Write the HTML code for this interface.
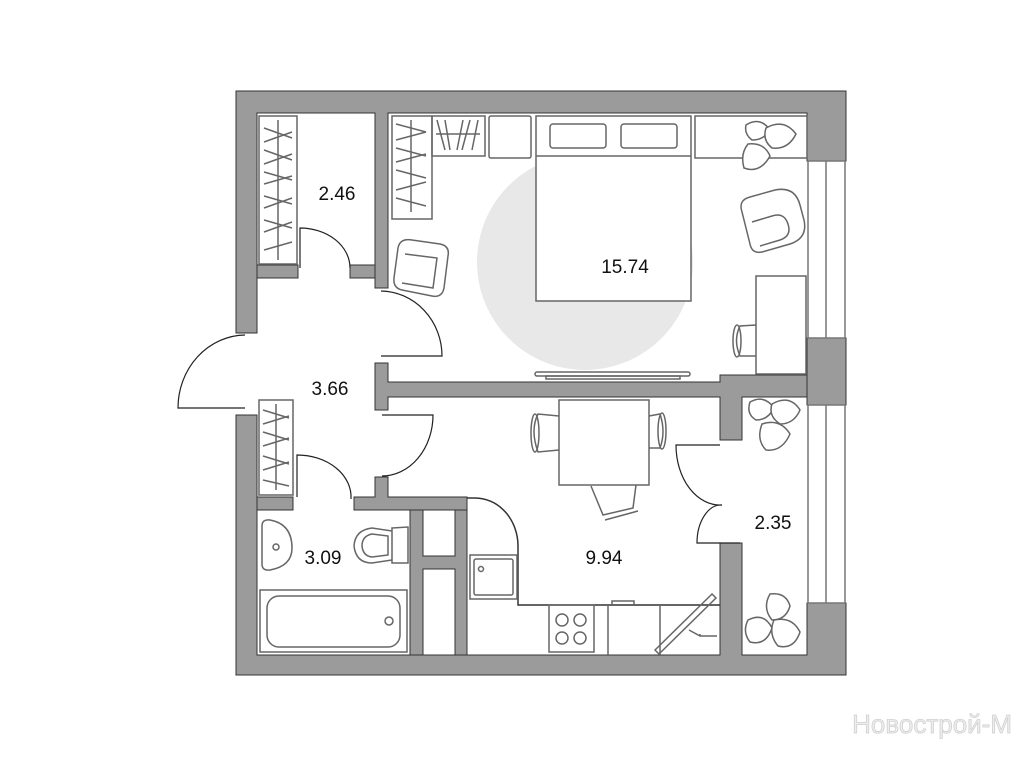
<!DOCTYPE html>
<html><head><meta charset="utf-8"><style>
html,body{margin:0;padding:0;background:#fff;}
svg{display:block;}
text{font-family:"Liberation Sans",sans-serif;}
</style></head><body>
<svg width="1024" height="768" viewBox="0 0 1024 768" xmlns="http://www.w3.org/2000/svg">
<rect width="1024" height="768" fill="#fff"/>
<circle cx="585" cy="262" r="108" fill="#e8e8e8"/>
<g fill="#9b9b9b" stroke="#333" stroke-width="1">
<path d="M236,91 H846 V161 H807 V113 H388 V288 H375 V113 H257 V333 H236 Z"/>
<rect x="257" y="265" width="41" height="13"/>
<rect x="350" y="265" width="25" height="13"/>
<rect x="807" y="338" width="39" height="67"/>
<path d="M375,363 H388 V382 H720 V375 H807 V397 H742 V440 H720 V397 H388 V410 H375 Z"/>
<path d="M236,415 H257 V655 H410 V510 H423 V655 H455 V510 H467 V655 H720 V543 H742 V655 H807 V603 H846 V675 H236 Z"/>
<rect x="257" y="497" width="36" height="13"/>
<path d="M354,497 H375 V477 H388 V497 H467 V510 H354 Z"/>
<rect x="410" y="510" width="57" height="145"/>
</g>
<g fill="#fff" stroke="#333" stroke-width="1">
<rect x="423" y="510" width="32" height="46"/>
<rect x="423" y="569" width="32" height="86"/>
</g>
<g fill="#fff" stroke="#777" stroke-width="1.5">
<rect x="808" y="161" width="37" height="177"/>
<line x1="826" y1="161" x2="826" y2="338"/>
<rect x="808" y="405" width="37" height="198"/>
<line x1="826" y1="405" x2="826" y2="603"/>
</g>
<g fill="none" stroke="#222" stroke-width="1.2">
<path d="M300,268 V228 A50,40 0 0 1 350,268"/>
<path d="M381,291 A62,65 0 0 1 442,356 H381"/>
<path d="M245,335 A68,73 0 0 0 178,408 H245"/>
<path d="M297,497 V455 A54,42 0 0 1 351,499"/>
<path d="M382,415 H433 A51,61 0 0 1 382,476"/>
<path d="M720,445 H676 A44,60 0 0 0 722,505"/>
<path d="M740,543 H697 A24,38 0 0 1 722,505"/>
</g>
<g fill="none" stroke="#666" stroke-width="1.5">
<rect x="259" y="116" width="38" height="148"/>
<line x1="278" y1="120" x2="278" y2="260"/>
<path d="M264,128 L292,138 M264,142 L292,132 M264,150 L292,160 M264,164 L292,154 M264,172 L292,180 M264,184 L292,176 M264,196 L292,204 M264,208 L292,198 M264,220 L292,228 M264,232 L292,222 M264,250 L292,242"/>
<rect x="259" y="400" width="34" height="95"/>
<line x1="276" y1="404" x2="276" y2="490"/>
<path d="M263,410 L289,418 M263,424 L289,416 M263,432 L289,440 M263,446 L289,438 M263,456 L289,464 M263,470 L289,462 M263,480 L289,486"/>
<rect x="392" y="116" width="40" height="103"/>
<rect x="432" y="116" width="53" height="40"/>
<line x1="411" y1="120" x2="411" y2="212"/>
<path d="M396,124 L426,132 M396,140 L426,132 M396,148 L426,156 M396,162 L426,154 M396,170 L426,178 M396,190 L426,182 M396,198 L426,206"/>
<path d="M437,120 L445,150 M445,120 L450,150 M457,150 L463,120 M462,150 L470,120 M472,150 L478,120 M436,134 L480,134"/>
<rect x="489" y="116" width="42" height="42" rx="2"/>
<rect x="536" y="116" width="155" height="185" fill="#fff"/>
<line x1="536" y1="156" x2="691" y2="156"/>
<rect x="550" y="124" width="56" height="24" rx="3"/>
<rect x="621" y="124" width="56" height="24" rx="3"/>
<rect x="695" y="116" width="112" height="42"/>
<rect x="535" y="372" width="155" height="4" rx="2"/>
<rect x="546" y="376" width="134" height="3"/>
<path d="M398,248 Q400,238 412,240 L440,244 Q450,246 448,256 L444,288 Q442,298 432,296 L402,290 Q393,288 394,278 Z"/>
<path d="M405,254 L437,258 L433,288 L402,283"/>
<path d="M742,212 Q738,200 750,197 L775,190 Q795,186 800,205 L804,220 Q808,238 790,244 L762,252 Q752,254 750,244 Z"/>
<path d="M752,222 L772,216 Q784,212 788,224 Q792,236 780,240 L760,246"/>
<rect x="756" y="276" width="50" height="98"/>
<path d="M756,325 L740,326 Q733,340 740,356 L756,356"/>
<ellipse cx="737" cy="341" rx="4" ry="16"/>
<rect x="559" y="400" width="90" height="85"/>
<path d="M559,416 L538,414 Q530,430 538,452 L559,450"/>
<ellipse cx="535" cy="433" rx="4" ry="19"/>
<path d="M649,416 L660,414 Q666,432 660,448 L649,448"/>
<ellipse cx="662" cy="431" rx="4" ry="18"/>
<path d="M591,486 L603,515 L633,508 L636,485"/>
<path d="M605,520 L638,511"/>
<path d="M262,526 Q262,519 270,520 Q292,524 292,548 Q292,566 270,570 Q262,571 262,564 Z"/>
<circle cx="276" cy="547" r="3"/>
<path d="M392,528 L408,527 L408,563 L392,563 Z"/>
<path d="M392,531 L372,528 Q355,530 354,546 Q356,563 372,563 L392,560"/>
<path d="M388,536 L372,534 Q362,536 362,546 Q363,556 372,557 L388,555 Z"/>
<rect x="260" y="590" width="147" height="62"/>
<rect x="267" y="596" width="133" height="51" rx="12"/>
<circle cx="389" cy="621" r="4"/>
<path d="M467,498 H475 A43,48 0 0 1 518,546 V605 H720" stroke="#333"/>
<rect x="470" y="555" width="47" height="44"/>
<rect x="474" y="559" width="39" height="36" rx="2"/>
<circle cx="481" cy="569" r="2.5"/>
<rect x="549" y="605" width="45" height="47"/>
<circle cx="562" cy="620" r="6"/><circle cx="580" cy="620" r="6"/>
<circle cx="562" cy="638" r="6"/><circle cx="580" cy="638" r="6"/>
<path d="M608,605 V655 M660,605 V655 M612,605 V601 H634 V605"/>
<path d="M655,650 L712,594 L716,598 L659,654 Z"/>
<path d="M689,630 L700,636 L717,636 M700,636 L700,634"/>
</g>
<g fill="#fff" stroke="#666" stroke-width="1.5">
<path d="M746,125 Q760,116 770,130 Q764,140 752,140 Q744,134 746,125 Z"/>
<path d="M766,128 Q784,118 796,134 Q788,150 772,148 Q762,140 766,128 Z"/>
<path d="M748,144 Q764,142 770,156 Q760,174 744,168 Q740,154 748,144 Z"/>
<path d="M750,402 Q764,394 774,408 Q768,420 756,420 Q746,414 750,402 Z"/>
<path d="M772,404 Q790,394 800,410 Q794,424 780,424 Q768,416 772,404 Z"/>
<path d="M762,424 Q780,418 790,434 Q782,452 766,450 Q756,440 762,424 Z"/>
<path d="M770,594 Q786,592 790,606 Q786,620 772,620 Q762,608 770,594 Z"/>
<path d="M748,620 Q764,612 772,628 Q766,646 750,642 Q742,632 748,620 Z"/>
<path d="M774,620 Q792,616 800,632 Q794,650 778,646 Q768,634 774,620 Z"/>
</g>
<g font-size="19" fill="#111" text-anchor="middle">
<text x="337" y="200">2.46</text>
<text x="625" y="273">15.74</text>
<text x="330" y="395">3.66</text>
<text x="323" y="564">3.09</text>
<text x="604" y="564">9.94</text>
<text x="773" y="529">2.35</text>
</g>
<text x="1012" y="733" font-size="26" fill="#eeeeee" stroke="#d0d0d0" stroke-width="0.8" text-anchor="end">Новострой-М</text>
</svg>
</body></html>
